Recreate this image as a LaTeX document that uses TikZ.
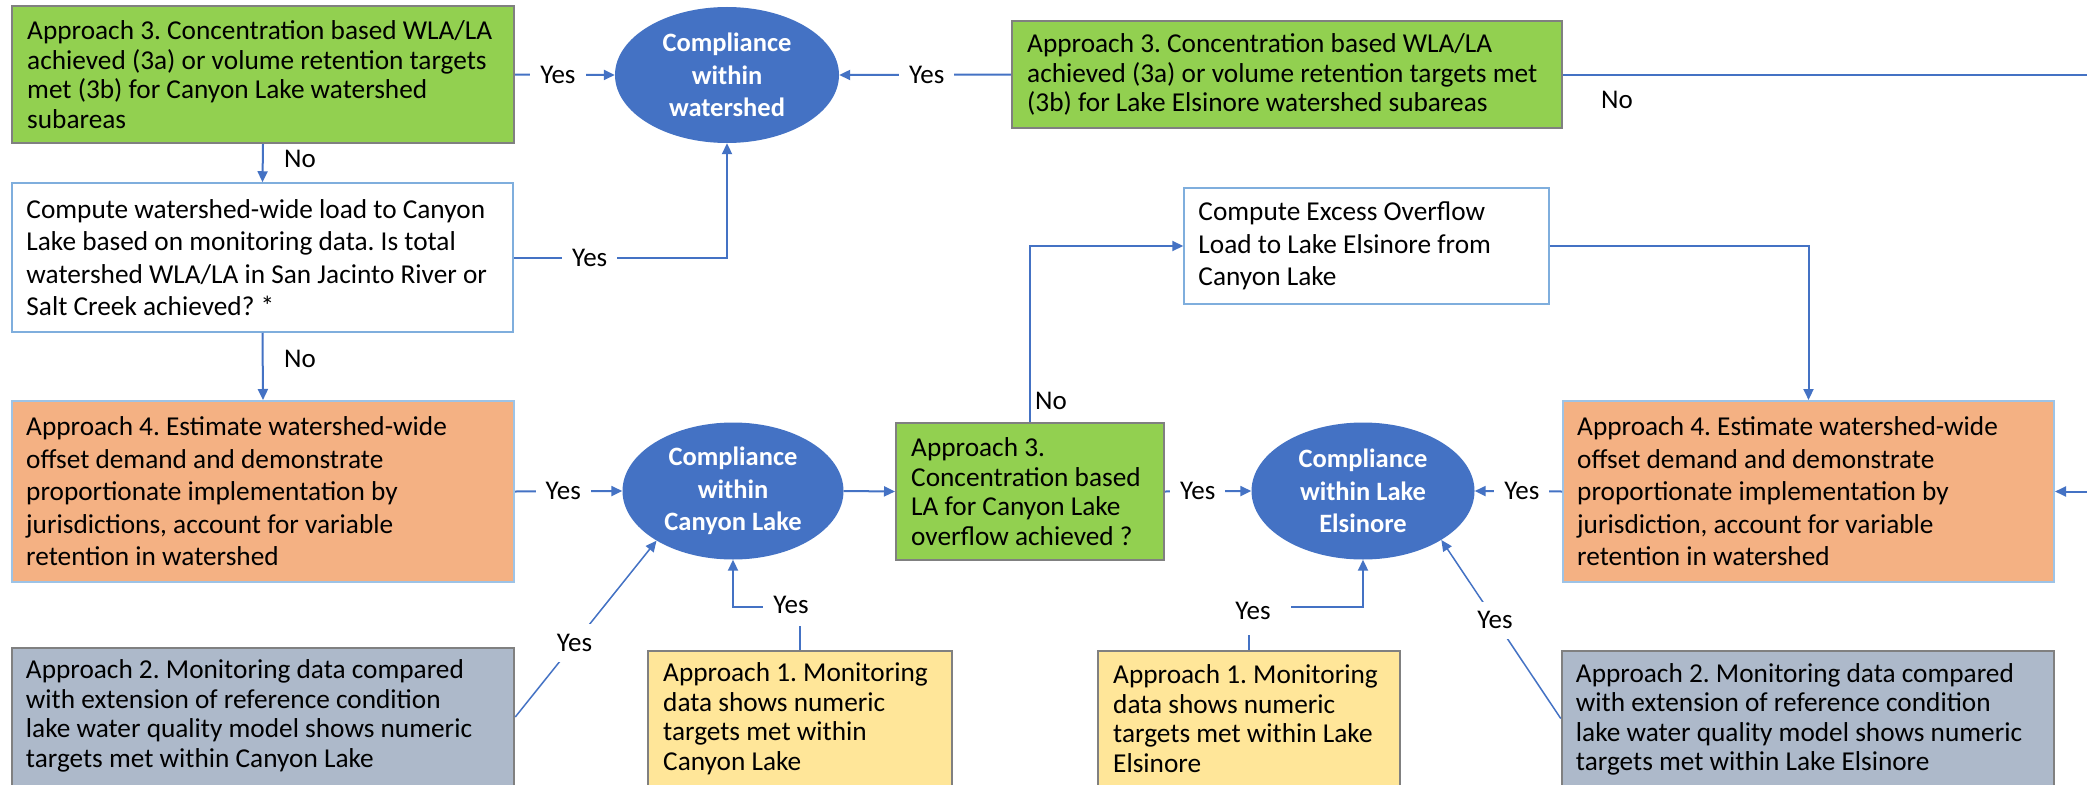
\documentclass[tikz,border=0pt]{standalone}
\usepackage{fontspec}
\setmainfont{Carlito}
\usetikzlibrary{shapes.geometric,arrows.meta,calc}
\definecolor{cgreen}{HTML}{92D050}
\definecolor{corange}{HTML}{F4B183}
\definecolor{cyellow}{HTML}{FFE699}
\definecolor{cslate}{HTML}{ADB9CA}
\definecolor{cblue}{HTML}{4472C4}
\definecolor{cgrayb}{HTML}{808080}
\definecolor{clblue}{HTML}{9DC3E6}
\definecolor{cwblue}{HTML}{7FAEDD}
\begin{document}
\frenchspacing
\begin{tikzpicture}[x=1pt,y=-1pt,
  box/.style={rectangle, inner sep=0pt, line width=2pt},
  greenbox/.style={box, fill=cgreen, draw=cgrayb},
  orangebox/.style={box, fill=corange, draw=clblue},
  whitebox/.style={box, fill=white, draw=cwblue, line width=1.5pt},
  yellowbox/.style={box, fill=cyellow, draw=cgrayb},
  slatebox/.style={box, fill=cslate, draw=cgrayb, line width=2.5pt},
  txt/.style={anchor=west, align=left, inner sep=0pt, font=\fontsize{27.3}{29.5}\selectfont},
  txtw/.style={txt, font=\fontsize{27.3}{32.5}\selectfont},
  circ/.style={ellipse, fill=cblue, draw=none, inner sep=0pt},
  ctext/.style={text=white, align=center, inner sep=0pt, font=\bfseries\fontsize{26.5}{32.5}\selectfont},
  conn/.style={draw=cblue, line width=2pt, -{Triangle[length=11pt,width=10pt]}},
  lbl/.style={fill=white, inner xsep=10pt, inner ysep=10pt, font=\fontsize{27}{30}\selectfont},
  nolbl/.style={inner sep=0pt, font=\fontsize{27}{30}\selectfont},
]
\useasboundingbox (0,0) rectangle (2087,784);
\fill[white] (0,0) rectangle (2087,784);
\clip (0,0) rectangle (2087,784);

% boxes
\node[greenbox, minimum width=502pt, minimum height=137pt] (g1) at (263,74.5) {};
\node[txt] (g1t) at ([xshift=16pt]g1.west) {Approach 3. Concentration based WLA/LA\\achieved (3a) or volume retention targets\\met (3b) for Canyon Lake watershed\\subareas};

\node[greenbox, minimum width=550pt, minimum height=107pt] (g2) at (1287,74.5) {};
\node[txt] (g2t) at ([xshift=16pt]g2.west) {Approach 3. Concentration based WLA/LA\\achieved (3a) or volume retention targets met\\(3b) for Lake Elsinore watershed subareas};

\node[whitebox, minimum width=501pt, minimum height=149pt] (w1) at (262.5,257.5) {};
\node[txtw] (w1t) at ([xshift=15pt]w1.west) {Compute watershed-wide load to Canyon\\Lake based on monitoring data. Is total\\watershed WLA/LA in San Jacinto River or\\Salt Creek achieved? *};

\node[orangebox, minimum width=502pt, minimum height=181pt] (o1) at (263,491.5) {};
\node[txtw] (o1t) at ([xshift=15pt]o1.west) {Approach 4. Estimate watershed-wide\\offset demand and demonstrate\\proportionate implementation by\\jurisdictions, account for variable\\retention in watershed};

\node[greenbox, minimum width=268pt, minimum height=137pt] (g3) at (1030,491.5) {};
\node[txt] (g3t) at ([xshift=16pt]g3.west) {Approach 3.\\Concentration based\\LA for Canyon Lake\\overflow achieved ?};

\node[whitebox, minimum width=365pt, minimum height=116pt] (w2) at (1366.5,246) {};
\node[txtw] (w2t) at ([xshift=15pt]w2.west) {Compute Excess Overflow\\Load to Lake Elsinore from\\Canyon Lake};

\node[orangebox, minimum width=491pt, minimum height=181pt] (o2) at (1808.5,491.5) {};
\node[txtw] (o2t) at ([xshift=15pt]o2.west) {Approach 4. Estimate watershed-wide\\offset demand and demonstrate\\proportionate implementation by\\jurisdiction, account for variable\\retention in watershed};

\node[slatebox, minimum width=502pt, minimum height=138pt] (a2c) at (263,717) {};
\node[txt] (a2ct) at ([xshift=15pt,yshift=1pt]a2c.west) {Approach 2. Monitoring data compared\\with extension of reference condition\\lake water quality model shows numeric\\targets met within Canyon Lake};

\node[yellowbox, minimum width=304pt, minimum height=135pt] (a1c) at (800,718.5) {};
\node[txt] (a1ct) at ([xshift=16pt]a1c.west) {Approach 1. Monitoring\\data shows numeric\\targets met within\\Canyon Lake};

\node[yellowbox, minimum width=302pt, minimum height=135pt] (a1e) at (1249,718.5) {};
\node[txt] (a1et) at ([xshift=16pt]a1e.west) {Approach 1. Monitoring\\data shows numeric\\targets met within Lake\\Elsinore};

\node[slatebox, minimum width=492pt, minimum height=135pt] (a2e) at (1808,718.5) {};
\node[txt] (a2et) at ([xshift=15pt,yshift=-1pt]a2e.west) {Approach 2. Monitoring data compared\\with extension of reference condition\\lake water quality model shows numeric\\targets met within Lake Elsinore};

% compliance ellipses
\node[circ, minimum width=224pt, minimum height=136pt] (c1) at (727,75) {};
\node[ctext] (c1t) at (c1) {Compliance\\within\\watershed};
\node[circ, minimum width=221pt, minimum height=137pt] (c2) at (733,491) {};
\node[ctext] (c2t) at (c2) {Compliance\\within\\Canyon Lake};
\node[circ, minimum width=223pt, minimum height=137pt] (c3) at (1363,491) {};
\node[ctext] (c3t) at (c3) {Compliance\\within Lake\\Elsinore};

% connectors
\draw[conn] (g1.east) -- node[lbl, pos=0.43] (y1) {Yes} (c1.west);
\draw[conn] (g2.west) -- node[lbl, pos=0.49] (y2) {Yes} (c1.east);
\draw[conn] (g1.south) -- (w1.north);
\node[nolbl] (n1) at (300,159) {No};
\draw[conn] (w1.east) -| node[lbl, pos=0.178] (y3) {Yes} (c1.south);
\draw[conn] (w1.south) -- (o1.north);
\node[nolbl] (n2) at (300,359) {No};
\draw[conn] (o1.east) -- node[lbl, pos=0.45] (y4) {Yes} (c2.west);
\draw[conn] (c2.east) -- (g3.west);
\draw[conn] (g3.north) |- (w2.west);
\node[nolbl] (n3) at (1051,401) {No};
\draw[conn] (w2.east) -| (o2.north);
\draw[conn] (g3.east) -- node[lbl, pos=0.38] (y5) {Yes} (c3.west);
\draw[conn] (o2.west) -- node[lbl, pos=0.46] (y6) {Yes} (c3.east);

\coordinate (offA) at (2120,74.5);
\coordinate (offB) at (2120,491.5);
\draw[conn] (g2.east) -- (offA) -- (offB) -- (o2.east);
\node[nolbl] (n4) at (1617,100) {No};

\coordinate (k1) at (800,607);
\draw[conn] (a1c.north) -- (k1) -| (c2.south);
\node[lbl, inner xsep=10pt, inner ysep=12pt] (y7) at (791,605) {Yes};

\coordinate (k2) at (1249,607);
\draw[conn] (a1e.north) -- (k2) -| (c3.south);
\node[lbl, inner xsep=20pt, inner ysep=15pt] (y8) at (1253,611) {Yes};

\draw[conn, line width=1.5pt] (a2c.east) -- node[lbl, pos=0.42] (y9) {Yes} (c2.213);
\draw[conn, line width=1.5pt] (a2e.west) -- node[lbl, pos=0.55] (y10) {Yes} (c3.328);
\end{tikzpicture}
\end{document}
